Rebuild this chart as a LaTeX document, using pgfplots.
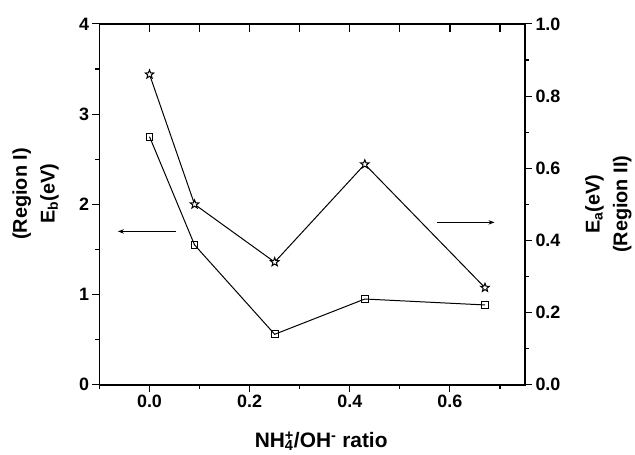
\documentclass[border=0pt]{standalone}
\usepackage{fontspec}
\setmainfont{Liberation Sans}
\usepackage{pgfplots}
\pgfplotsset{compat=1.18}
\usetikzlibrary{arrows.meta, calc}

% open five-pointed star mark
\pgfdeclareplotmark{ostar}{%
  \pgfpathmoveto{\pgfpointpolar{90}{\pgfplotmarksize}}%
  \pgfpathlineto{\pgfpointpolar{126}{0.42\pgfplotmarksize}}%
  \pgfpathlineto{\pgfpointpolar{162}{\pgfplotmarksize}}%
  \pgfpathlineto{\pgfpointpolar{198}{0.42\pgfplotmarksize}}%
  \pgfpathlineto{\pgfpointpolar{234}{\pgfplotmarksize}}%
  \pgfpathlineto{\pgfpointpolar{270}{0.42\pgfplotmarksize}}%
  \pgfpathlineto{\pgfpointpolar{306}{\pgfplotmarksize}}%
  \pgfpathlineto{\pgfpointpolar{342}{0.42\pgfplotmarksize}}%
  \pgfpathlineto{\pgfpointpolar{18}{\pgfplotmarksize}}%
  \pgfpathlineto{\pgfpointpolar{54}{0.42\pgfplotmarksize}}%
  \pgfpathclose
  \pgfusepathqfillstroke
}

\pgfplotsset{
  base/.style={
    scale only axis, width=428pt, height=363pt,
    xmin=-0.1, xmax=0.75,
    axis line style={line width=1.5pt},
    every tick/.style={line width=1.1pt, black},
    major tick length=7pt, minor tick length=4pt,
    ticklabel style={font=\bfseries\fontsize{18}{18}\selectfont},
    /pgf/number format/assume math mode=true,
    label style={font=\bfseries\fontsize{20}{28}\selectfont, align=center},
  },
}

\begin{document}
\begin{tikzpicture}
% plain frame
\begin{axis}[base, ymin=0, ymax=1, xtick=\empty, ytick=\empty]
\end{axis}
% left axis: E_b, squares
\begin{axis}[base,
  axis x line*=bottom, axis y line*=left,
  tick align=outside,
  ymin=0, ymax=4,
  ytick={0,1,2,3,4}, minor ytick={0.5,1.5,2.5,3.5},
  xtick={0,0.2,0.4,0.6}, minor xtick={-0.1,0.1,0.3,0.5,0.7},
  xticklabel={\pgfmathprintnumber[fixed,fixed zerofill,precision=1]{\tick}},
  xlabel={NH\rlap{\textsubscript{4}}\textsuperscript{+}/OH\textsuperscript{-} ratio},
  xlabel style={at={(rel axis cs:0.521,-0.1736)}, anchor=base,
    font=\bfseries\fontsize{21}{21}\selectfont},
  ylabel={(Region I)\\E\textsubscript{b}(eV)},
  ylabel style={at={(rel axis cs:-0.15,0.529)}, anchor=center},
]
  \coordinate (bl) at (rel axis cs:0,0);
  \coordinate (tl) at (rel axis cs:0,1);
  \coordinate (tr) at (rel axis cs:1,1);
  \addplot[black, line width=1pt, mark=square, mark size=3.4pt,
    mark options={solid, fill=white, line width=1pt}]
    coordinates {(0,2.75) (0.09,1.55) (0.25,0.56) (0.43,0.951) (0.67,0.885)};
  \draw[line width=1pt, -{Stealth[length=6pt,width=4.5pt]}]
    (axis cs:0.053,1.70) -- (axis cs:-0.063,1.70);
  \draw[line width=1pt, -{Stealth[length=6pt,width=4.5pt]}]
    (axis cs:0.574,1.80) -- (axis cs:0.689,1.80);
\end{axis}
% right axis: E_a, stars
\begin{axis}[base,
  axis x line=none, axis y line*=right,
  tick align=outside,
  ymin=0, ymax=1,
  ytick={0,0.2,0.4,0.6,0.8,1.0}, minor ytick={0.1,0.3,0.5,0.7,0.9},
  yticklabel={\pgfmathprintnumber[fixed,fixed zerofill,precision=1]{\tick}},
  ylabel={E\textsubscript{a}(eV)\\(Region II)},
  ylabel style={at={(rel axis cs:1.196,0.50)}, anchor=center},
]
  \addplot[black, line width=1pt, mark=ostar, mark size=4.5pt,
    mark options={solid, fill=white, line width=1pt}]
    coordinates {(0,0.860) (0.09,0.500) (0.25,0.340) (0.43,0.611) (0.67,0.269)};
\end{axis}
% inward ticks along the top edge, every 0.1 (axis spans -0.1 to 0.75)
\foreach \t in {0,0.1,0.2,0.3,0.4,0.5,0.6,0.7} {
  \pgfmathsetmacro\f{(\t+0.1)/0.85}
  \draw[line width=1.2pt, black] ($(tl)!\f!(tr)$) -- ++(0,-8pt);
}
\path ([xshift=-100pt,yshift=-70pt]bl) rectangle ([xshift=107pt,yshift=24pt]tr);
\end{tikzpicture}
\end{document}
